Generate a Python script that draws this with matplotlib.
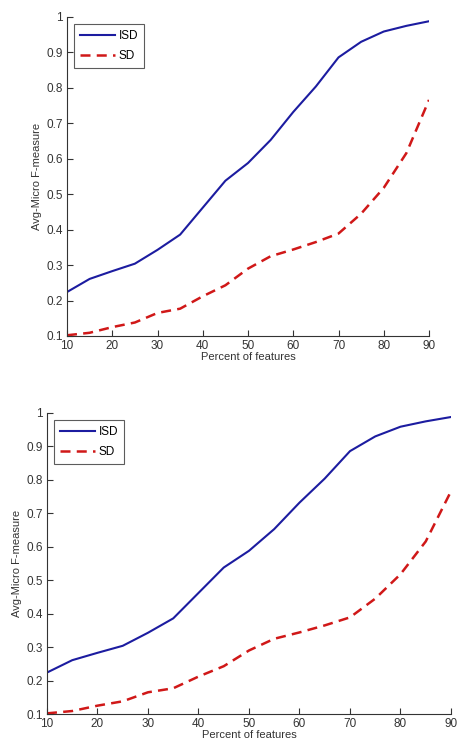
import matplotlib
matplotlib.use("Agg")
import matplotlib.pyplot as plt

plt.rcParams['font.family'] = ['Liberation Sans', 'DejaVu Sans']

pct = [10, 15, 20, 25, 30, 35, 40, 45, 50, 55, 60, 65, 70, 75, 80, 85, 90]
isd = [0.224, 0.261, 0.283, 0.304, 0.343, 0.386, 0.462, 0.538, 0.588, 0.653,
       0.732, 0.804, 0.886, 0.930, 0.959, 0.975, 0.988]
sd = [0.102, 0.109, 0.125, 0.138, 0.165, 0.177, 0.212, 0.243, 0.290, 0.325,
      0.344, 0.365, 0.389, 0.445, 0.518, 0.616, 0.766]

xticks = [10, 20, 30, 40, 50, 60, 70, 80, 90]
yticks = [0.1, 0.2, 0.3, 0.4, 0.5, 0.6, 0.7, 0.8, 0.9, 1.0]
yticklabels = ["0.1", "0.2", "0.3", "0.4", "0.5", "0.6", "0.7", "0.8", "0.9", "1"]

fig = plt.figure(figsize=(4.58, 7.42), dpi=100)
ax_top = fig.add_axes([0.1463, 0.5472, 0.7904, 0.4299])
ax_bot = fig.add_axes([0.1026, 0.0377, 0.8821, 0.4057])

for ax in (ax_top, ax_bot):
    ax.plot(pct, isd, color="#1c1ca0", linewidth=1.5, label="ISD")
    ax.plot(pct, sd, color="#d01818", linewidth=1.8, linestyle=(0, (4, 2.5)), label="SD")
    ax.set_xlim(10, 90)
    ax.set_ylim(0.1, 1.0)
    ax.set_xticks(xticks)
    ax.set_yticks(yticks)
    ax.set_yticklabels(yticklabels)
    ax.spines['top'].set_visible(False)
    ax.spines['right'].set_visible(False)
    for s in ('left', 'bottom'):
        ax.spines[s].set_color("#333333")
        ax.spines[s].set_linewidth(0.8)
    ax.tick_params(direction="in", length=4, width=0.8, labelsize=8.5,
                   colors="#333333")
    ax.tick_params(axis="x", pad=3)
    ax.tick_params(axis="y", pad=3)
    ax.set_xlabel("Percent of features", fontsize=8, color="#333333", labelpad=0)
    ax.set_ylabel("Avg-Micro F-measure", fontsize=8, color="#333333", labelpad=3)
    leg = ax.legend(loc="upper left", fontsize=8.5, frameon=True, fancybox=False,
                    handlelength=3.0, borderpad=0.5, labelspacing=0.7,
                    handletextpad=0.3, borderaxespad=0.6)
    leg.get_frame().set_edgecolor("#333333")
    leg.get_frame().set_linewidth(0.8)

fig.savefig("out.png", dpi=100)
